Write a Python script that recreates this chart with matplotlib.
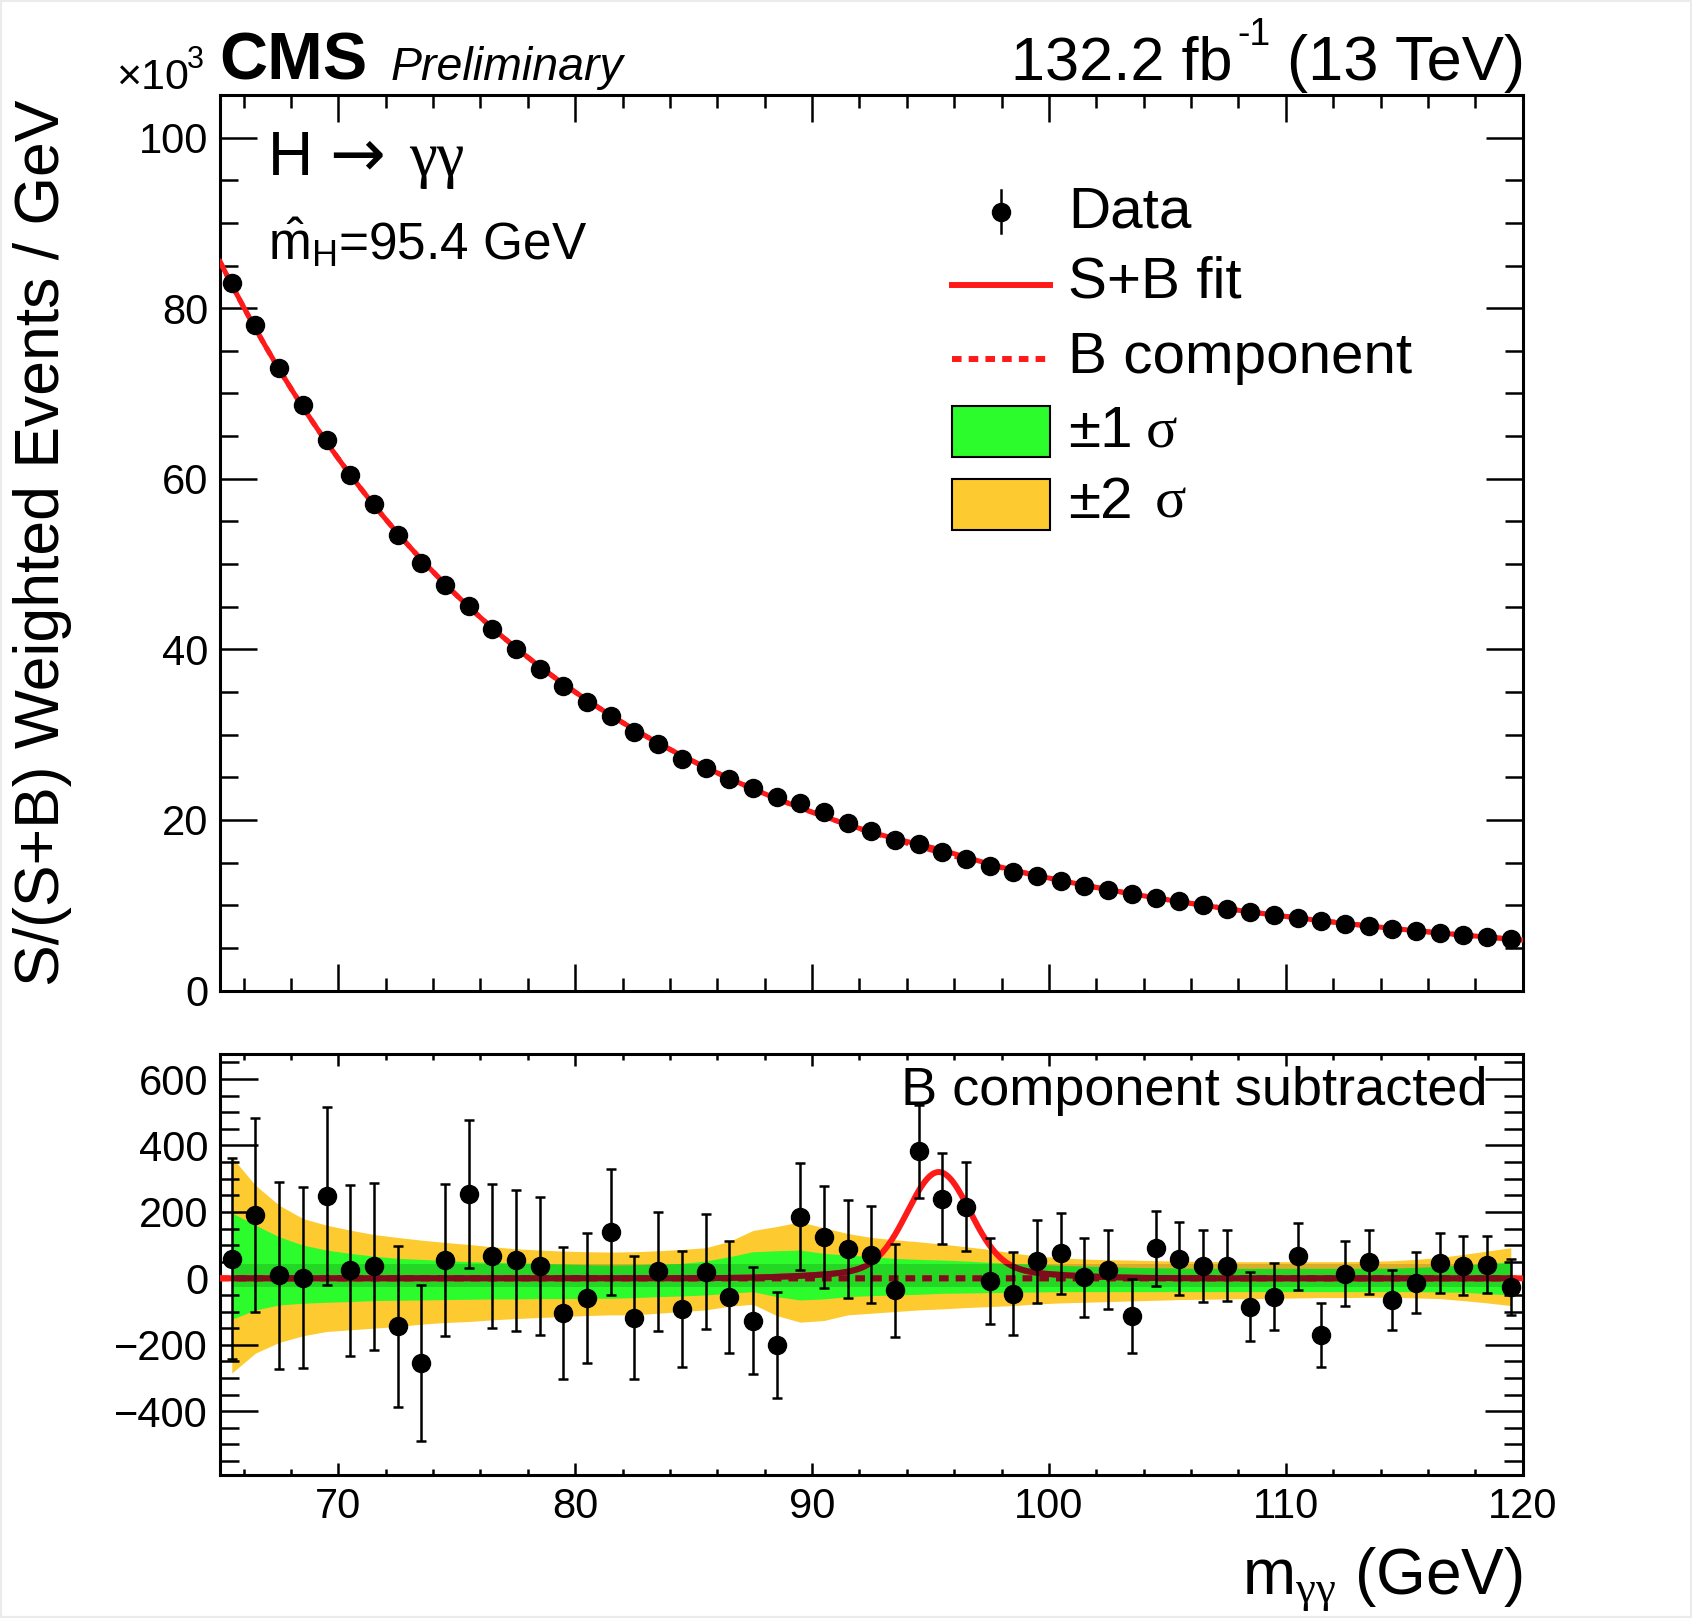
import numpy as np
import matplotlib
matplotlib.use("Agg")
import matplotlib.pyplot as plt
from matplotlib.lines import Line2D
from matplotlib.patches import Rectangle
from matplotlib.ticker import MultipleLocator

plt.rcParams['font.family'] = ['Liberation Sans', 'DejaVu Sans']
plt.rcParams['mathtext.fontset'] = 'custom'
plt.rcParams['mathtext.rm'] = 'Liberation Sans'
plt.rcParams['mathtext.it'] = 'Liberation Serif'
plt.rcParams['mathtext.bf'] = 'Liberation Sans:bold'

# ---------------- data ----------------
mass_lo, mass_hi = 65.0, 120.0
bin_centers = np.arange(65.5, 120.0, 1.0)

# weighted events (x10^3) per GeV
data_k = [83.0, 78.0, 73.0, 68.6, 64.6, 60.5, 57.0, 53.4, 50.1, 47.6,
          45.1, 42.4, 40.0, 37.7, 35.7, 33.8, 32.2, 30.3, 28.9, 27.2,
          26.1, 24.8, 23.7, 22.7, 22.0, 20.9, 19.7, 18.7, 17.7, 17.2,
          16.2, 15.4, 14.6, 13.9, 13.4, 12.8, 12.2, 11.8, 11.3, 10.9,
          10.5, 10.0, 9.6, 9.2, 8.9, 8.5, 8.1, 7.8, 7.6, 7.2,
          7.0, 6.8, 6.5, 6.3, 6.1]

# B-subtracted residuals (events) and their errors
resid = [59, 190, 9, 2, 248, 24, 36, -145, -256, 55,
         254, 66, 54, 37, -104, -59, 140, -118, 21, -92,
         20, -57, -128, -201, 186, 125, 88, 71, -36, 382,
         240, 216, -8, -46, 52, 75, 3, 26, -114, 90,
         59, 37, 38, -86, -56, 67, -171, 14, 49, -66,
         -13, 46, 38, 41, -26]
errs = [303, 292, 282, 272, 268, 257, 252, 243, 235, 230,
        224, 217, 213, 208, 199, 195, 190, 184, 180, 174,
        173, 168, 161, 160, 160, 154, 148, 146, 140, 141,
        137, 135, 129, 124, 125, 121, 118, 118, 112, 113,
        110, 107, 106, 104, 101, 101, 97, 98, 96, 91,
        91, 91, 88, 86, 84]

# uncertainty bands on B component (residual panel)
yellow_hi = [365, 280, 220, 180, 160, 145, 132, 123, 115, 108,
             102, 95, 89, 85, 82, 80, 79, 80, 83, 87,
             92, 111, 144, 156, 170, 152, 135, 123, 116, 110,
             103, 95, 87, 76, 67, 62, 58, 56, 55, 53,
             52, 51, 50, 50, 50, 50, 50, 50, 51, 53,
             57, 63, 72, 82, 92]
yellow_lo = [-285, -225, -193, -173, -160, -155, -150, -145, -138, -133,
             -130, -125, -121, -118, -115, -112, -110, -110, -105, -100,
             -95, -84, -78, -112, -132, -127, -110, -105, -100, -95,
             -92, -88, -85, -82, -77, -74, -72, -70, -68, -66,
             -64, -63, -62, -61, -60, -59, -58, -58, -57, -57,
             -59, -61, -67, -74, -82]
green_hi = [197, 160, 125, 100, 85, 75, 67, 60, 57, 53,
            50, 48, 47, 45, 43, 41, 40, 41, 43, 45,
            52, 65, 80, 83, 85, 75, 70, 65, 60, 57,
            55, 52, 48, 45, 42, 39, 37, 35, 33, 32,
            31, 30, 30, 30, 30, 30, 30, 30, 30, 31,
            33, 36, 40, 45, 50]
green_lo = [-123, -95, -80, -75, -72, -70, -67, -66, -65, -64,
            -63, -62, -62, -61, -61, -60, -60, -58, -55, -53,
            -50, -45, -40, -55, -65, -62, -55, -52, -50, -48,
            -45, -44, -43, -42, -41, -40, -40, -40, -40, -40,
            -40, -40, -40, -40, -40, -40, -40, -40, -40, -40,
            -40, -41, -42, -46, -50]
strip_lo, strip_hi = -25, 42

# signal model parameters
sig_mass = 95.35
sig_core_amp, sig_core_width = 290.0, 1.3
sig_tail_amp, sig_tail_width = 30.0, 3.5

# ---------------- styles ----------------
RED = '#ff1a1a'
DARKRED = '#7b0d1c'
GREEN = '#2cfb2c'
YELLOW = '#fdca30'
W, H = 1692, 1618


def fx(px):
    return px / W


def fy(py):
    return 1 - py / H


x = bin_centers
data_k = np.array(data_k)
resid = np.array(resid, float)
errs = np.array(errs, float)

xf = np.linspace(mass_lo, mass_hi, 1101)
coef = np.polyfit(x, np.log(data_k), 3)
bkg_k = np.exp(np.polyval(coef, xf))
sig = (sig_core_amp * np.exp(-0.5 * ((xf - sig_mass) / sig_core_width) ** 2)
       + sig_tail_amp * np.exp(-0.5 * ((xf - sig_mass) / sig_tail_width) ** 2))

fig = plt.figure(figsize=(W / 100, H / 100), dpi=100)
ax1 = fig.add_axes([0.1300, 0.3878, 0.7699, 0.5535])
ax2 = fig.add_axes([0.1300, 0.0884, 0.7699, 0.2599])

# ---- top panel ----
ax1.plot(xf, bkg_k, color=RED, lw=3.6, ls=(0, (1.6, 1.2)), zorder=3)
ax1.plot(xf, bkg_k + sig / 1000.0, color=RED, lw=3.6, zorder=3)
ax1.errorbar(x, data_k, yerr=errs / 1000.0, fmt='o', color='k', ms=13,
             elinewidth=1.8, capsize=0, zorder=5)
ax1.set_xlim(mass_lo, mass_hi)
ax1.set_ylim(0, 105)
ax1.yaxis.set_major_locator(MultipleLocator(20))
ax1.yaxis.set_minor_locator(MultipleLocator(5))

# ---- bottom panel ----
ax2.fill_between(x, yellow_lo, yellow_hi, color=YELLOW, lw=0, zorder=1)
ax2.fill_between(x, green_lo, green_hi, color=GREEN, lw=0, zorder=1.5)
ax2.fill_between([x[0], x[-1]], [strip_lo] * 2, [strip_hi] * 2, color='k',
                 alpha=0.14, lw=0, zorder=2)
zero = np.zeros_like(xf)
ax2.plot(xf, zero, color=RED, lw=4.3, ls=(0, (1.6, 1.2)), zorder=3)
ax2.plot(xf, sig, color=RED, lw=4.3, zorder=3)
clip = Rectangle((x[0], strip_lo), x[-1] - x[0], strip_hi - strip_lo,
                 transform=ax2.transData)
l1, = ax2.plot(xf, zero, color=DARKRED, lw=4.3, ls=(0, (1.6, 1.2)), zorder=3.5)
l2, = ax2.plot(xf, sig, color=DARKRED, lw=4.3, zorder=3.5)
l1.set_clip_path(clip)
l2.set_clip_path(clip)
ax2.errorbar(x, resid, yerr=errs, fmt='o', color='k', ms=13,
             elinewidth=1.8, capsize=3.8, capthick=1.8, zorder=5)
ax2.set_xlim(mass_lo, mass_hi)
ax2.set_ylim(-592, 674)
ax2.yaxis.set_major_locator(MultipleLocator(200))
ax2.yaxis.set_minor_locator(MultipleLocator(50))

for ax in (ax1, ax2):
    ax.xaxis.set_major_locator(MultipleLocator(10))
    ax.xaxis.set_minor_locator(MultipleLocator(2))
    for s in ax.spines.values():
        s.set_linewidth(2.2)
    ax.tick_params(which='both', direction='in', top=True, right=True,
                   width=1.8, labelsize=30, pad=8.6)

ax1.tick_params(axis='x', which='major', length=19.4)
ax1.tick_params(axis='x', which='minor', length=9.4)
ax1.tick_params(axis='y', which='major', length=26.6)
ax1.tick_params(axis='y', which='minor', length=13)
ax1.tick_params(axis='x', labelbottom=False)
ax2.tick_params(axis='x', which='major', length=8.6)
ax2.tick_params(axis='x', which='minor', length=4.3)
ax2.tick_params(axis='y', which='major', length=27.4)
ax2.tick_params(axis='y', which='minor', length=13.7)

# ---- texts ----
fig.text(fx(219), fy(80), 'CMS', fontsize=48, fontweight='bold', va='baseline')
fig.text(fx(391), fy(80), 'Preliminary', fontsize=33.5, style='italic', va='baseline')
fig.text(fx(116), fy(89), '×10', fontsize=31, va='baseline')
fig.text(fx(187), fy(68), '3', fontsize=22, va='baseline')
fig.text(fx(1232), fy(80), '132.2 fb', fontsize=44, ha='right', va='baseline')
fig.text(fx(1237), fy(45), '-1', fontsize=27, ha='left', va='baseline')
fig.text(fx(1525), fy(80), '(13 TeV)', fontsize=45.5, ha='right', va='baseline')
fig.text(fx(268), fy(175), 'H', fontsize=45, va='baseline')
fig.text(fx(329), fy(175), '→', fontsize=48, va='baseline', family='DejaVu Sans')
fig.text(fx(409), fy(175), 'γγ', fontsize=45, va='baseline', family='Liberation Serif')
fig.text(fx(268), fy(260), '$\\hat{\\mathrm{m}}_{\\mathrm{H}}$=95.4 GeV',
         fontsize=37, va='baseline')
fig.text(fx(1487), fy(1105), 'B component subtracted', fontsize=39,
         ha='right', va='baseline')
fig.text(fx(1523), fy(1593), 'm$_{\\gamma\\gamma}$ (GeV)', fontsize=46,
         ha='right', va='baseline')
fig.text(fx(43), fy(100), 'S/(S+B) Weighted Events / GeV', fontsize=45,
         rotation=90, ha='center', va='top')

# ---- legend (manual) ----
fig.add_artist(Line2D([fx(1001)] * 2, [fy(190), fy(233)], color='k', lw=1.8,
                      transform=fig.transFigure))
fig.add_artist(Line2D([fx(1001)], [fy(212)], marker='o', ms=13, color='k',
                      transform=fig.transFigure))
fig.add_artist(Line2D([fx(952), fx(1050)], [fy(285)] * 2, color=RED, lw=4.3,
                      transform=fig.transFigure))
fig.add_artist(Line2D([fx(952), fx(1050)], [fy(359)] * 2, color=RED, lw=4.3,
                      ls=(0, (1.6, 1.2)), transform=fig.transFigure))
fig.add_artist(Rectangle((fx(952), fy(457)), fx(98), 51 / H, facecolor=GREEN,
                         edgecolor='k', lw=1.5, transform=fig.transFigure))
fig.add_artist(Rectangle((fx(952), fy(530)), fx(98), 51 / H, facecolor=YELLOW,
                         edgecolor='k', lw=1.5, transform=fig.transFigure))
fig.text(fx(1068), fy(228), 'Data', fontsize=42, va='baseline')
fig.text(fx(1068), fy(298), 'S+B fit', fontsize=42, va='baseline')
fig.text(fx(1068), fy(373), 'B component', fontsize=42, va='baseline')
fig.text(fx(1068), fy(447), '±1', fontsize=42, va='baseline')
fig.text(fx(1146), fy(447), 'σ', fontsize=42, va='baseline', family='Liberation Serif')
fig.text(fx(1068), fy(518), '±2', fontsize=42, va='baseline')
fig.text(fx(1155), fy(518), 'σ', fontsize=42, va='baseline', family='Liberation Serif')

fig.add_artist(Rectangle((0, 0), 1, 1, fill=False, edgecolor='#ebebeb', lw=3,
                         transform=fig.transFigure))

fig.savefig('out.png', dpi=100)
